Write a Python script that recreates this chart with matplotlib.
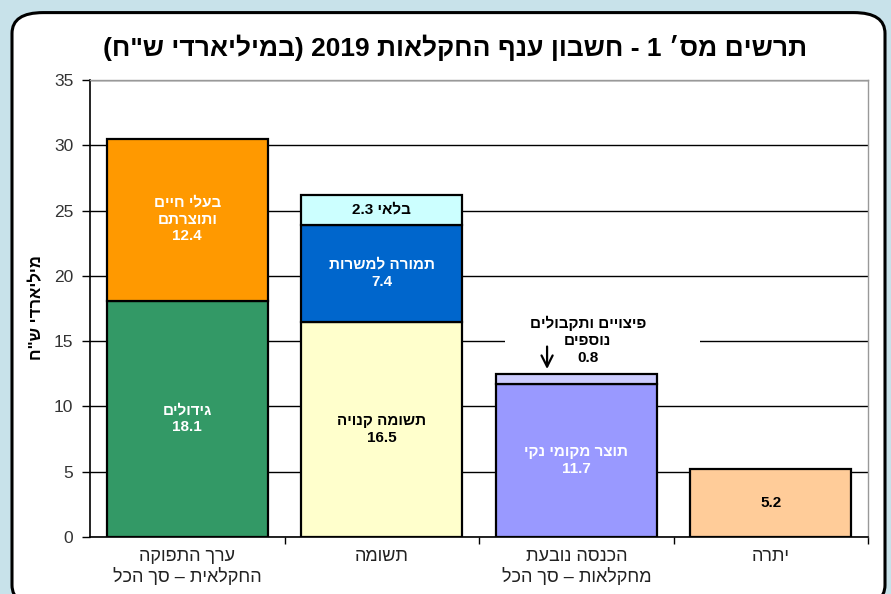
import re
import numpy as np
import matplotlib
matplotlib.use("Agg")
import matplotlib.pyplot as plt
from matplotlib.patches import FancyBboxPatch, Rectangle

plt.rcParams['font.family'] = ['Liberation Sans', 'DejaVu Sans']

# matplotlib has no bidi support: turn logical Hebrew into visual order
def heb(s):
    out = []
    for line in s.split("\n"):
        r = line[::-1]
        r = re.sub(r'[0-9][0-9.]*', lambda m: m.group(0)[::-1], r)
        r = r.translate(str.maketrans('()', ')('))
        out.append(r)
    return "\n".join(out)

# data
categories = ["ערך התפוקה\nהחקלאית – סך הכל", "תשומה",
              "הכנסה נובעת\nמחקלאות – סך הכל", "יתרה"]
seg_values = [18.1, 12.4, 16.5, 7.4, 2.3, 11.7, 0.8, 5.2]
seg_bar = [0, 0, 1, 1, 1, 2, 2, 3]
seg_names = ["גידולים", "בעלי חיים\nותוצרתם", "תשומה קנויה", "תמורה למשרות",
             "בלאי", "תוצר מקומי נקי", "פיצויים ותקבולים\nנוספים", ""]
yticks = [0, 5, 10, 15, 20, 25, 30, 35]

seg_colors = ["#339966", "#FF9900", "#FFFFCC", "#0066CC",
              "#CCFFFF", "#9999FF", "#CCCCFF", "#FFCC99"]
seg_text = ["white", "white", "black", "white", "black", "white", "black", "black"]

fig = plt.figure(figsize=(8.91, 5.94), dpi=100)
fig.patch.set_facecolor("#c8e2ea")
frame = FancyBboxPatch((12/891, -0.02), 873/891, (594-12)/594 + 0.02 - 0.001,
                       boxstyle="round,pad=0,rounding_size=0.035",
                       transform=fig.transFigure, facecolor="white",
                       edgecolor="black", linewidth=2.2, zorder=-10)
fig.patches.append(frame)

ax = fig.add_axes([90/891, 57/594, 778/891, 457/594])
ax.set_facecolor("white")
ax.set_xlim(-0.5, 3.5)
ax.set_ylim(0, 35)

bottoms = np.zeros(4)
width = 0.83
for i, (v, b) in enumerate(zip(seg_values, seg_bar)):
    bot = bottoms[b]
    ax.bar(b, v, width=width, bottom=bot, color=seg_colors[i],
           edgecolor="black", linewidth=1.6, zorder=3)
    mid = bot + v / 2
    name = seg_names[i]
    if i == 6:
        # small segment, annotated above the bar
        ax.add_patch(Rectangle((b - 0.366, 14.0), 1.0, 2.4, fc="white", ec="none", zorder=1))
        ax.text(b + 0.06, 15.05, heb(name + "\n" + f"{v}"), ha="center", va="center",
                fontsize=11, fontweight="bold", color="black", linespacing=1.25,
                zorder=4)
        ax.annotate("", xy=(b - 0.15, bot + v + 0.15), xytext=(b - 0.15, 14.8),
                    arrowprops=dict(arrowstyle="->", color="black", lw=1.6,
                                    mutation_scale=20), zorder=4)
    elif name == "בלאי":
        ax.text(b, mid, heb(f"{name} {v}"), ha="center", va="center",
                fontsize=11, fontweight="bold", color=seg_text[i], zorder=4)
    elif name:
        ax.text(b, mid, heb(name + "\n" + f"{v}"), ha="center", va="center",
                fontsize=11, fontweight="bold", color=seg_text[i],
                linespacing=1.25, zorder=4)
    else:
        ax.text(b, mid, f"{v}", ha="center", va="center",
                fontsize=11, fontweight="bold", color=seg_text[i], zorder=4)
    bottoms[b] += v

ax.set_yticks(yticks)
ax.set_yticklabels([str(t) for t in yticks], fontsize=12.5, color="#333333")
ax.yaxis.grid(True, color="black", linewidth=1.0, zorder=0)
ax.set_axisbelow(True)
ax.tick_params(axis="y", direction="out", length=6, width=1, pad=6)

ax.set_xticks(range(4))
ax.set_xticklabels([heb(c) for c in categories], fontsize=13, color="#222222",
                   linespacing=1.2)
ax.tick_params(axis="x", which="major", length=0, pad=8)
ax.set_xticks([0.5, 1.5, 2.5, 3.5], minor=True)
ax.tick_params(axis="x", which="minor", direction="out", length=5, width=1)

for s in ["left", "bottom"]:
    ax.spines[s].set_color("black")
    ax.spines[s].set_linewidth(1.2)
for s in ["top", "right"]:
    ax.spines[s].set_color("#999999")
    ax.spines[s].set_linewidth(1.0)

fig.text(37/891, 1 - 308/594, heb('מיליארדי ש"ח'), rotation=90, ha="center",
         va="center", fontsize=12, fontweight="bold")
fig.text(455/891, 1 - 48/594, heb('תרשים מס׳ 1 - חשבון ענף החקלאות 2019 (במיליארדי ש"ח)'),
         ha="center", va="center", fontsize=19, fontweight="bold")

fig.savefig("out.png", dpi=100, facecolor=fig.get_facecolor())
